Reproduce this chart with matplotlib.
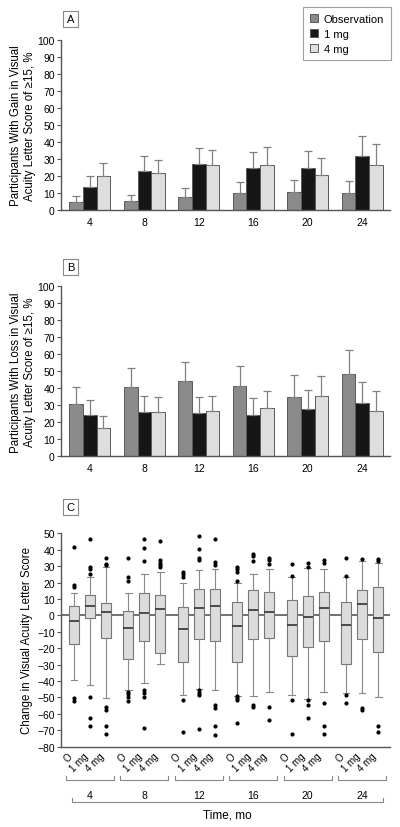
import numpy as np
import matplotlib.pyplot as plt
import matplotlib.transforms as mtransforms
from matplotlib.patches import Patch

plt.rcParams['font.family'] = ['Liberation Sans Narrow', 'Liberation Sans', 'DejaVu Sans']

# данные
months = ['4', '8', '12', '16', '20', '24']
groups = ['Observation', '1 mg', '4 mg']
group_short = ['O', '1 mg', '4 mg']

# A: прирост >= 15 букв, % (значение и верхняя граница)
gain_obs = [4.5, 4.9, 7.5, 9.8, 10.2, 9.6]
gain_obs_hi = [7.9, 8.8, 12.8, 16.1, 17.7, 16.7]
gain_1mg = [13.2, 22.6, 27.1, 24.4, 24.8, 31.6]
gain_1mg_hi = [19.6, 31.4, 36.1, 33.8, 34.8, 43.6]
gain_4mg = [19.8, 21.6, 26.3, 26.3, 20.6, 26.5]
gain_4mg_hi = [27.7, 29.1, 35.4, 36.7, 30.3, 38.5]

# B: потеря >= 15 букв, %
loss_obs = [30.8, 40.6, 44.5, 41.4, 35.1, 48.4]
loss_obs_hi = [40.6, 51.8, 55.3, 52.9, 47.6, 62.4]
loss_1mg = [24.5, 26.3, 25.7, 24.3, 27.8, 31.4]
loss_1mg_hi = [33.3, 35.3, 34.7, 34.1, 38.8, 43.5]
loss_4mg = [16.5, 25.9, 26.5, 28.2, 35.5, 26.7]
loss_4mg_hi = [23.5, 34.7, 35.3, 38.2, 47.1, 38.4]

# C: боксплоты изменения остроты зрения (месяц x группа)
box_whishi = [[13.5, 23.2, 29.3], [13.5, 25.3, 26.3], [19.5, 27.5, 28.1],
              [19.5, 25.0, 28.1], [23.2, 28.7, 28.1], [23.2, 33.2, 32.1]]
box_q3 = [[5.5, 12.7, 7.4], [2.5, 13.5, 12.2], [5.3, 16.3, 16.3],
          [8.4, 15.3, 14.1], [9.2, 11.6, 14.1], [8.4, 15.3, 17.1]]
box_med = [[-3.6, 5.7, 2.3], [-7.5, 1.3, 3.7], [-8.5, 4.3, 5.5],
           [-6.3, 3.3, 2.3], [-5.8, -0.8, 4.7], [-5.8, 6.8, -1.8]]
box_q1 = [[-17.6, -1.8, -13.6], [-26.8, -15.6, -22.7], [-28.6, -14.4, -15.8],
          [-28.6, -14.6, -13.6], [-24.9, -19.5, -15.8], [-29.8, -14.4, -22.5]]
box_whislo = [[-39.4, -42.4, -50.5], [-45.6, -41.4, -29.6], [-48.3, -44.6, -45.6],
              [-48.9, -49.3, -46.9], [-48.5, -50.9, -46.5], [-47.5, -47.5, -49.5]]
box_fliers = [
    [[41.5, 18.6, 17.0, -50.5, -52.1], [46.4, 29.3, 28.1, 25.3, -49.7, -62.5, -67.5],
     [35.2, 31.5, 30.7, -55.6, -57.8, -67.5, -72.5]],
    [[35.2, 23.6, 21.2, -46.5, -48.1, -49.7, -51.9], [46.4, 41.1, 33.2, -45.6, -47.3, -49.7, -68.5],
     [45.2, 33.6, 32.1, 30.7, 29.3]],
    [[26.6, 25.0, 23.4, -51.7, -71.2], [48.4, 40.2, 35.1, 34.0, -45.6, -47.3, -48.5, -69.4],
     [46.4, 32.5, 30.7, -54.4, -56.4, -67.5, -72.6]],
    [[29.5, 28.1, 26.6, 21.2, -49.3, -50.5, -51.7, -65.6], [37.4, 36.2, 33.2, -54.4, -56.0],
     [35.1, 34.0, 31.3, -55.6, -63.5]],
    [[31.3, 24.0, -51.7, -72.5], [32.1, 29.3, -51.7, -54.6, -62.5],
     [34.0, 32.1, -53.4, -67.5, -72.5]],
    [[35.2, 24.0, -48.5, -53.4], [34.2, -56.6, -57.8],
     [34.2, 33.2, -67.3, -71.2]],
]

colors = ['#8a8a8a', '#161616', '#dedede']
spine_c = '#555555'

fig = plt.figure(figsize=(4, 8.28), dpi=100)
ax_a = fig.add_axes([0.1525, 0.7455, 0.8225, 0.205])
ax_b = fig.add_axes([0.1525, 0.4477, 0.8225, 0.2053])
ax_c = fig.add_axes([0.1525, 0.097, 0.8225, 0.2577])

x = np.arange(len(months))
w = 0.25


def style_axes(ax):
    for s in ['top', 'right']:
        ax.spines[s].set_visible(False)
    for s in ['left', 'bottom']:
        ax.spines[s].set_color(spine_c)
        ax.spines[s].set_linewidth(1.0)
    ax.tick_params(axis='y', length=3, width=0.8, color=spine_c, labelsize=7.5, pad=1.5)
    ax.tick_params(axis='x', length=0, labelsize=7.5)


def draw_bars(ax, series, ylabel):
    for i, (v, hi) in enumerate(series):
        pos = x + (i - 1) * w
        ax.bar(pos, v, w, color=colors[i], edgecolor='#5a5a5a', linewidth=0.7,
               label=groups[i], zorder=2)
        err = np.array(hi) - np.array(v)
        ax.errorbar(pos, v, yerr=[np.zeros_like(err), err], fmt='none',
                    ecolor='#808080', elinewidth=0.9, capsize=3, capthick=0.9, zorder=3)
    ax.set_xlim(-0.53, 5.51)
    ax.set_ylim(0, 100)
    ax.set_yticks(range(0, 101, 10))
    ax.set_xticks(x)
    ax.set_xticklabels(months)
    ax.tick_params(axis='x', pad=5)
    style_axes(ax)
    ax.set_ylabel(ylabel, fontsize=8.3, linespacing=1.25)
    ax.yaxis.set_label_coords(-0.075, 0.5)


draw_bars(ax_a, [(gain_obs, gain_obs_hi), (gain_1mg, gain_1mg_hi), (gain_4mg, gain_4mg_hi)],
          'Participants With Gain in Visual\nAcuity Letter Score of \u226515, %')
draw_bars(ax_b, [(loss_obs, loss_obs_hi), (loss_1mg, loss_1mg_hi), (loss_4mg, loss_4mg_hi)],
          'Participants With Loss in Visual\nAcuity Letter Score of \u226515, %')

handles = [Patch(facecolor=colors[i], edgecolor='#5a5a5a', linewidth=0.7, label=groups[i])
           for i in range(3)]
leg = ax_a.legend(handles=handles, loc='upper right', bbox_to_anchor=(391 / 400, 1 - 8 / 828),
                  bbox_transform=fig.transFigure, frameon=True, fancybox=False,
                  borderaxespad=0, fontsize=8, handlelength=0.75, handleheight=0.75,
                  handletextpad=0.5, labelspacing=0.45, borderpad=0.6)
leg.get_frame().set_edgecolor('#888888')
leg.get_frame().set_linewidth(0.8)

# боксплоты
stats = []
positions = []
for m in range(len(months)):
    for g in range(3):
        stats.append(dict(whislo=box_whislo[m][g], q1=box_q1[m][g], med=box_med[m][g],
                          q3=box_q3[m][g], whishi=box_whishi[m][g], fliers=box_fliers[m][g]))
        positions.append(m + (g - 1) * 0.294)

ax_c.axhline(0, color='#666666', lw=1.3, zorder=1)
ax_c.bxp(stats, positions=positions, widths=0.18, capwidths=0.12, patch_artist=True,
         boxprops=dict(facecolor='#dcdcdc', edgecolor='#777777', linewidth=0.8),
         medianprops=dict(color='#333333', linewidth=1.2),
         whiskerprops=dict(color='#888888', linewidth=0.8),
         capprops=dict(color='#888888', linewidth=0.8),
         flierprops=dict(marker='o', markersize=2, markerfacecolor='black',
                         markeredgecolor='black'),
         zorder=2)
ax_c.set_xlim(-0.53, 5.51)
ax_c.set_ylim(-80, 50)
ax_c.set_yticks(range(-80, 51, 10))
ax_c.set_xticks(positions)
ax_c.set_xticklabels(group_short * len(months), rotation=45, ha='right', va='top')
style_axes(ax_c)
ax_c.tick_params(axis='x', pad=3, labelsize=7)
ax_c.set_ylabel('Change in Visual Acuity Letter Score', fontsize=8.3)
ax_c.yaxis.set_label_coords(-0.085, 0.5)

trans = mtransforms.blended_transform_factory(ax_c.transData, ax_c.transAxes)
for i, m in enumerate(months):
    ax_c.plot([i - 0.44, i - 0.44, i + 0.44, i + 0.44], [-0.137, -0.158, -0.158, -0.137],
              transform=trans, clip_on=False, color='#888888', lw=0.8)
    ax_c.text(i, -0.226, m, transform=trans, ha='center', va='center', fontsize=7.5)
ax_c.plot([-0.33, -0.33, 5.39, 5.39], [-0.24, -0.259, -0.259, -0.24],
          transform=trans, clip_on=False, color='#888888', lw=0.8)
ax_c.text(2.53, -0.32, 'Time, mo', transform=trans, ha='center', va='center', fontsize=8.5)

# буквы панелей
for letter, ypix in [('A', 20), ('B', 268), ('C', 508)]:
    fig.text(70.5 / 400, 1 - ypix / 828, letter, ha='center', va='center', fontsize=8,
             bbox=dict(boxstyle='square,pad=0.3', facecolor='white', edgecolor='#888888',
                       linewidth=0.8))

fig.savefig('out.png', dpi=100)
